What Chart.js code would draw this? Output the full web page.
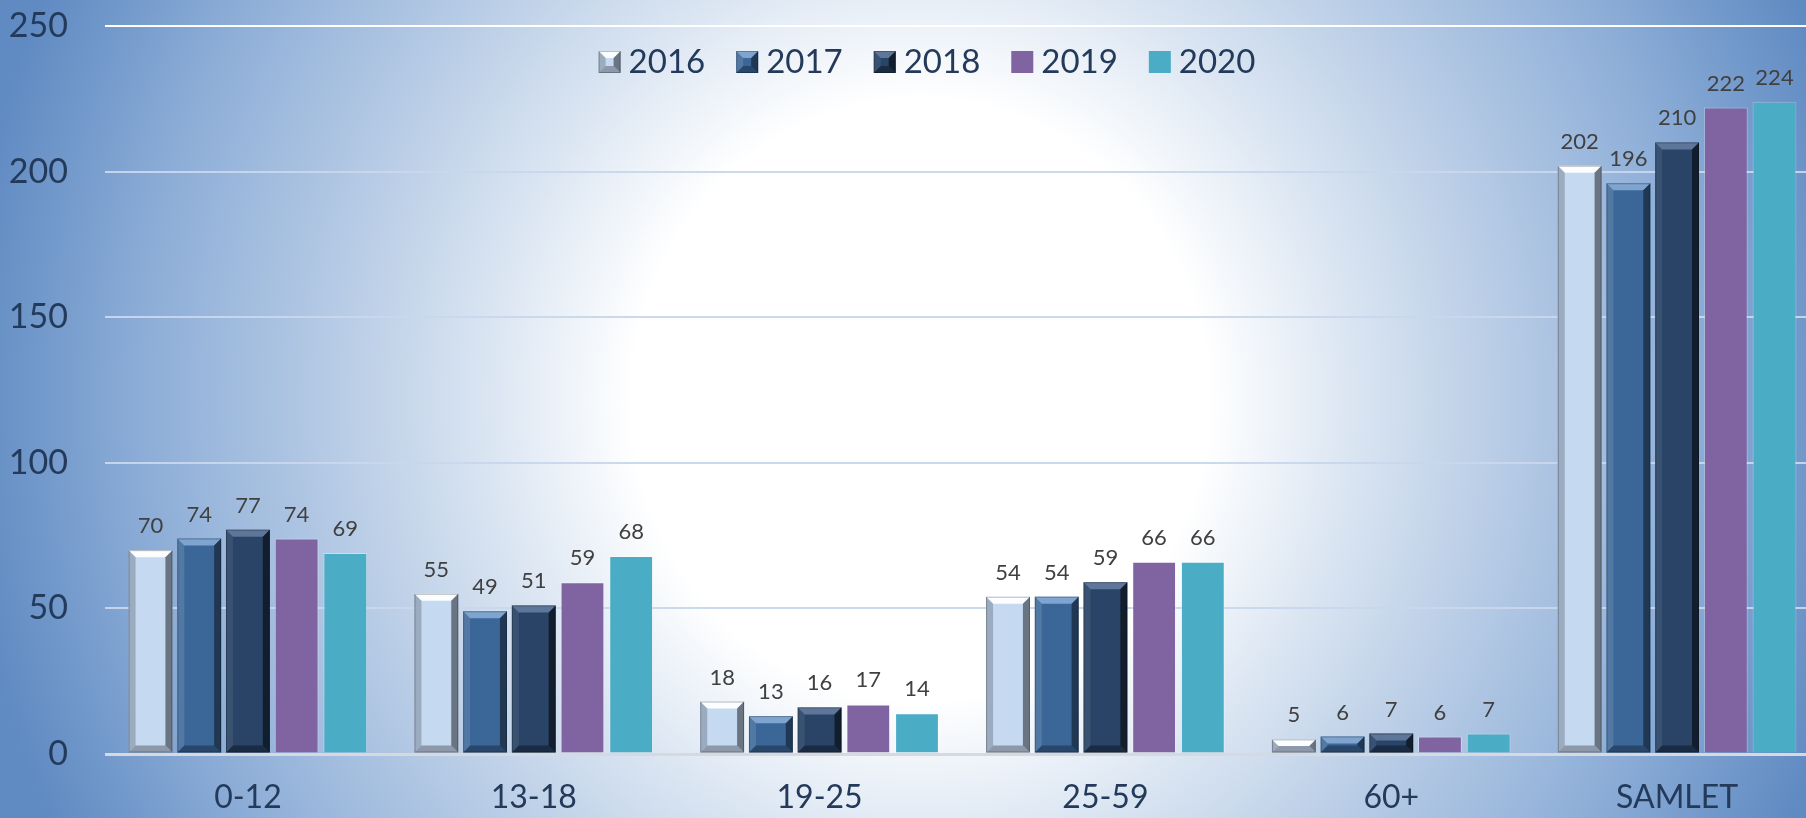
<!DOCTYPE html>
<html>
<head>
<meta charset="utf-8">
<script src="https://cdn.jsdelivr.net/npm/chart.js@4.4.1/dist/chart.umd.min.js"></script>
<style>
  html, body { margin: 0; padding: 0; }
  #marco {
    width: 1806px; height: 818px; overflow: hidden; position: relative;
    background: radial-gradient(ellipse 960px 1000px at 920px 400px,
      #ffffff 0%, #ffffff 30%, #dde7f3 44%, #b9cde6 60%, #8fafd8 80%, #5f8ac2 100%);
  }
  canvas { display: block; }
</style>
</head>
<body>
<div id="marco"><canvas id="grafico" width="1822" height="818"></canvas></div>
<script>
const categorias = ['0-12', '13-18', '19-25', '25-59', '60+', 'SAMLET'];
const anios = ['2016', '2017', '2018', '2019', '2020'];
const v2016 = [70, 55, 18, 54, 5, 202];
const v2017 = [74, 49, 13, 54, 6, 196];
const v2018 = [77, 51, 16, 59, 7, 210];
const v2019 = [74, 59, 17, 66, 6, 222];
const v2020 = [69, 68, 14, 66, 7, 224];
const valores = [v2016, v2017, v2018, v2019, v2020];

const colores = ['#c5d9f1', '#3b6698', '#294467', '#8064a2', '#4bacc6'];
// colores del bisel: arriba, izquierda, derecha, abajo (null = barra plana)
const biseles = [
  ['rgba(255,255,255,0.95)', 'rgba(95,105,120,0.4)', 'rgba(45,50,60,0.6)', 'rgba(85,90,100,0.5)'],
  ['rgba(150,185,225,0.75)', 'rgba(255,255,255,0.12)', 'rgba(0,0,0,0.45)', 'rgba(0,0,0,0.3)'],
  ['rgba(115,140,175,0.7)', 'rgba(255,255,255,0.08)', 'rgba(0,0,0,0.55)', 'rgba(0,0,0,0.35)'],
  null,
  null
];
const textoOscuro = '#243a5b';

function dibujarBisel(ctx, x, y, w, h, tono) {
  const b = Math.min(7, h / 2, w / 2);
  if (b <= 0) return;
  const caras = [
    [[x, y], [x + w, y], [x + w - b, y + b], [x + b, y + b]],
    [[x, y], [x + b, y + b], [x + b, y + h - b], [x, y + h]],
    [[x + w, y], [x + w, y + h], [x + w - b, y + h - b], [x + w - b, y + b]],
    [[x, y + h], [x + b, y + h - b], [x + w - b, y + h - b], [x + w, y + h]]
  ];
  caras.forEach((cara, i) => {
    ctx.beginPath();
    ctx.moveTo(cara[0][0], cara[0][1]);
    for (let k = 1; k < cara.length; k++) ctx.lineTo(cara[k][0], cara[k][1]);
    ctx.closePath();
    ctx.fillStyle = tono[i];
    ctx.fill();
  });
  ctx.strokeStyle = 'rgba(0,0,0,0.25)';
  ctx.lineWidth = 1;
  ctx.strokeRect(x + 0.5, y + 0.5, w - 1, h - 1);
}

const bisel = {
  id: 'bisel',
  afterDatasetsDraw(chart) {
    const ctx = chart.ctx;
    ctx.save();
    chart.data.datasets.forEach((ds, i) => {
      if (!biseles[i]) return;
      chart.getDatasetMeta(i).data.forEach(barra => {
        const p = barra.getProps(['x', 'y', 'base', 'width'], true);
        dibujarBisel(ctx, p.x - p.width / 2, p.y, p.width, p.base - p.y, biseles[i]);
      });
    });
    ctx.restore();
  }
};

const etiquetas = {
  id: 'etiquetas',
  afterDatasetsDraw(chart) {
    const ctx = chart.ctx;
    ctx.save();
    ctx.font = '22px Lato';
    ctx.fillStyle = '#404040';
    ctx.textAlign = 'center';
    ctx.textBaseline = 'alphabetic';
    chart.data.datasets.forEach((ds, i) => {
      chart.getDatasetMeta(i).data.forEach((barra, j) => {
        ctx.fillText(ds.data[j], barra.x, barra.y - 17);
      });
    });
    ctx.restore();
  }
};

// leyenda dentro del area del grafico, como en el original
const leyenda = {
  id: 'leyenda',
  afterDraw(chart) {
    const ctx = chart.ctx;
    const lado = 22, hueco = 8, sep = 31, centroX = 927, centroY = 62;
    ctx.save();
    ctx.font = '33px Lato';
    const anchos = chart.data.datasets.map(ds => ctx.measureText(ds.label).width);
    let total = anchos.reduce((a, w) => a + lado + hueco + w, 0) + sep * (anchos.length - 1);
    let x = centroX - total / 2;
    chart.data.datasets.forEach((ds, i) => {
      ctx.fillStyle = colores[i];
      ctx.fillRect(x, centroY - lado / 2, lado, lado);
      if (biseles[i]) dibujarBisel(ctx, x, centroY - lado / 2, lado, lado, biseles[i]);
      ctx.fillStyle = textoOscuro;
      ctx.textBaseline = 'middle';
      ctx.textAlign = 'left';
      ctx.fillText(ds.label, x + lado + hueco, centroY);
      x += lado + hueco + anchos[i] + sep;
    });
    ctx.restore();
  }
};

const datasets = anios.map((a, i) => ({
  label: a,
  data: valores[i],
  backgroundColor: colores[i],
  borderColor: biseles[i] ? colores[i] : 'rgba(255,255,255,0.35)',
  borderWidth: biseles[i] ? 0 : 1,
  categoryPercentage: 0.852,
  barPercentage: 0.9
}));

new Chart(document.getElementById('grafico'), {
  type: 'bar',
  data: { labels: categorias, datasets: datasets },
  plugins: [bisel, etiquetas, leyenda],
  options: {
    responsive: false,
    animation: false,
    layout: { padding: { top: 26, right: 2, left: 0, bottom: 0 } },
    plugins: {
      legend: { display: false },
      tooltip: { enabled: false }
    },
    scales: {
      x: {
        grid: { display: false },
        border: { display: false },
        ticks: { color: textoOscuro, font: { family: 'Lato', size: 32 }, padding: 16 },
        afterFit(s) { s.height = 64; s.paddingLeft = 0; s.paddingRight = 0; }
      },
      y: {
        min: 0,
        max: 250,
        ticks: { stepSize: 50, color: textoOscuro, font: { family: 'Lato', size: 34 }, padding: 37 },
        border: { display: false },
        grid: {
          drawTicks: false,
          color: c => c.tick.value === 0 ? '#d6d9de' : (c.tick.value === 250 ? '#ffffff' : 'rgba(200,215,236,0.95)'),
          lineWidth: c => c.tick.value === 0 ? 3 : 2
        },
        afterFit(s) { s.width = 105; s.paddingTop = 0; s.paddingBottom = 0; }
      }
    }
  }
});
</script>
</body>
</html>
